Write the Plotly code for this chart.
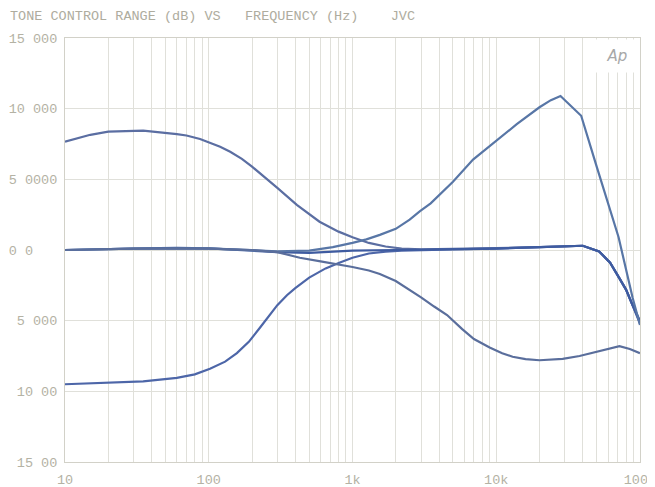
import plotly.graph_objects as go

# ---------------- data ----------------
bass_boost_f = [10, 15, 20, 35, 60, 70, 87, 100, 120, 141, 170, 200, 250, 300, 410, 590, 800, 1000, 1300, 1700,
                2200, 3000, 5000, 10000, 20000, 30000, 40000, 52000, 62000, 71000, 80000, 88000, 100000]
bass_boost_v = [7.66, 8.15, 8.38, 8.45, 8.2, 8.1, 7.85, 7.6, 7.3, 6.95, 6.45, 5.9, 5.1, 4.4, 3.2, 2.0, 1.3, 0.9, 0.5, 0.25,
                0.1, 0.05, 0.08, 0.12, 0.2, 0.25, 0.3, -0.1, -0.9, -1.9, -2.8, -3.8, -5.1]

bass_cut_f = [10, 20, 35, 60, 80, 102, 130, 157, 190, 227, 260, 300, 350, 400, 500, 650, 810, 1000, 1300, 1700, 2200,
              3000, 5000, 10000, 20000, 30000, 40000, 52000, 62000, 71000, 80000, 88000, 100000]
bass_cut_v = [-9.5, -9.4, -9.3, -9.05, -8.8, -8.4, -7.9, -7.3, -6.5, -5.5, -4.7, -3.9, -3.2, -2.7, -1.95, -1.3, -0.9,
              -0.55, -0.25, -0.12, -0.05, 0.0, 0.05, 0.1, 0.2, 0.25, 0.3, -0.1, -0.9, -1.9, -2.8, -3.8, -5.2]

flat_f = [10, 20, 35, 60, 100, 200, 300, 500, 1000, 2000, 5000, 10000, 20000, 30000, 40000,
          52000, 62000, 71000, 80000, 88000, 100000]
flat_v = [0.0, 0.08, 0.12, 0.15, 0.12, -0.05, -0.15, -0.2, -0.05, 0.0, 0.05, 0.1, 0.2, 0.25, 0.3,
          -0.1, -0.9, -1.9, -2.8, -3.8, -5.0]

treble_boost_f = [10, 30, 100, 200, 300, 500, 730, 1000, 1250, 1550, 2000, 2500, 2950, 3500, 4070, 5000, 6900, 9600,
                  13900, 20000, 24000, 28000, 39000, 50000, 59000, 71000, 89000, 100000]
treble_boost_v = [0.0, 0.1, 0.12, 0.0, -0.1, -0.05, 0.2, 0.5, 0.75, 1.07, 1.5, 2.15, 2.75, 3.3, 3.93, 4.83, 6.4, 7.6,
                  8.9, 10.1, 10.6, 10.9, 9.5, 5.9, 3.6, 0.9, -3.4, -5.3]

treble_cut_f = [10, 30, 100, 200, 300, 430, 600, 800, 1000, 1300, 1550, 2000, 2500, 3000, 3700, 4550, 5800, 7000, 9000,
                11000, 13000, 16000, 20000, 29000, 38000, 50000, 60000, 72000, 85000, 100000]
treble_cut_v = [0.0, 0.1, 0.1, 0.0, -0.15, -0.55, -0.8, -1.0, -1.2, -1.45, -1.7, -2.2, -2.8, -3.35, -4.0, -4.6, -5.6,
                -6.3, -6.9, -7.3, -7.55, -7.72, -7.8, -7.7, -7.5, -7.2, -6.95, -6.8, -7.0, -7.3]

y_tick_vals = [15, 10, 5, 0, -5, -10, -15]
y_tick_text = ["15 000", "10 000", "5 0000", "0 0\u00a0\u00a0\u00a0", "5 000", "10 00", "15 00"]

x_major = [10, 100, 1000, 10000, 100000]
x_major_text = ["10", "100", "1k", "10k", "100k"]

title_text = ("TONE CONTROL RANGE (dB) VS\u00a0\u00a0\u00a0FREQUENCY (Hz)"
              "\u00a0\u00a0\u00a0\u00a0JVC")

# ---------------- figure ----------------
series = [
    (bass_boost_f, bass_boost_v, "#5b6ea2"),
    (bass_cut_f, bass_cut_v, "#4d66a8"),
    (flat_f, flat_v, "#3e5ba0"),
    (treble_boost_f, treble_boost_v, "#5876a6"),
    (treble_cut_f, treble_cut_v, "#5a6e9c"),
]

fig = go.Figure()
for f, v, c in series:
    fig.add_trace(go.Scatter(x=f, y=v, mode="lines",
                             line=dict(color=c, width=2.2),
                             showlegend=False, hoverinfo="skip"))

# log grid: every 1..9 x decade, label only decades
grid_vals, grid_text = [], []
for d, lab in zip(x_major[:-1], x_major_text[:-1]):
    for m in range(1, 10):
        grid_vals.append(d * m)
        grid_text.append(lab if m == 1 else "")
grid_vals.append(x_major[-1])
grid_text.append(x_major_text[-1])

text_col = "#b4b2a4"
mono = "Liberation Mono, DejaVu Sans Mono, monospace"

# page body has an 8px margin; figure sized so the page is exactly 655x487
W, H = 647, 479
fig.update_layout(
    width=W, height=H,
    margin=dict(l=57, r=15, t=30, b=25, autoexpand=False),
    paper_bgcolor="white", plot_bgcolor="white",
    font=dict(family=mono, size=13.5, color=text_col),
    title=dict(text=title_text, x=2 / W, xanchor="left", xref="container",
               y=1 - 7 / H, yanchor="middle", yref="container",
               font=dict(family=mono, size=13.5, color="#aeac9e")),
)

fig.update_xaxes(type="log", range=[1, 5.0003], tickmode="array",
                 tickvals=grid_vals, ticktext=grid_text, automargin=False,
                 ticklabeloverflow="allow",
                 showgrid=True, gridcolor="#e0e0da", gridwidth=1,
                 showline=True, linecolor="#d2d1c8", mirror=True,
                 ticks="", ticklabelstandoff=5, zeroline=False,
                 tickfont=dict(family=mono, size=13.5, color=text_col))
fig.update_yaxes(range=[-15, 15], tickmode="array",
                 tickvals=y_tick_vals, ticktext=y_tick_text, automargin=False,
                 showgrid=True, gridcolor="#e0e0da", gridwidth=1,
                 showline=True, linecolor="#d2d1c8", mirror=True,
                 ticks="", ticklabelstandoff=4, zeroline=False,
                 tickfont=dict(family=mono, size=13.5, color=text_col))

# Audio Precision logo box
fig.add_annotation(text="<i>Ap</i>", xref="paper", yref="paper",
                   x=1.0, y=1.0, xanchor="right", yanchor="top",
                   width=40, height=30, bgcolor="white", showarrow=False,
                   font=dict(family="DejaVu Sans, sans-serif", size=15, color="#a8a8a8"),
                   xshift=-1, yshift=-1)

fig.write_html("out.html")
